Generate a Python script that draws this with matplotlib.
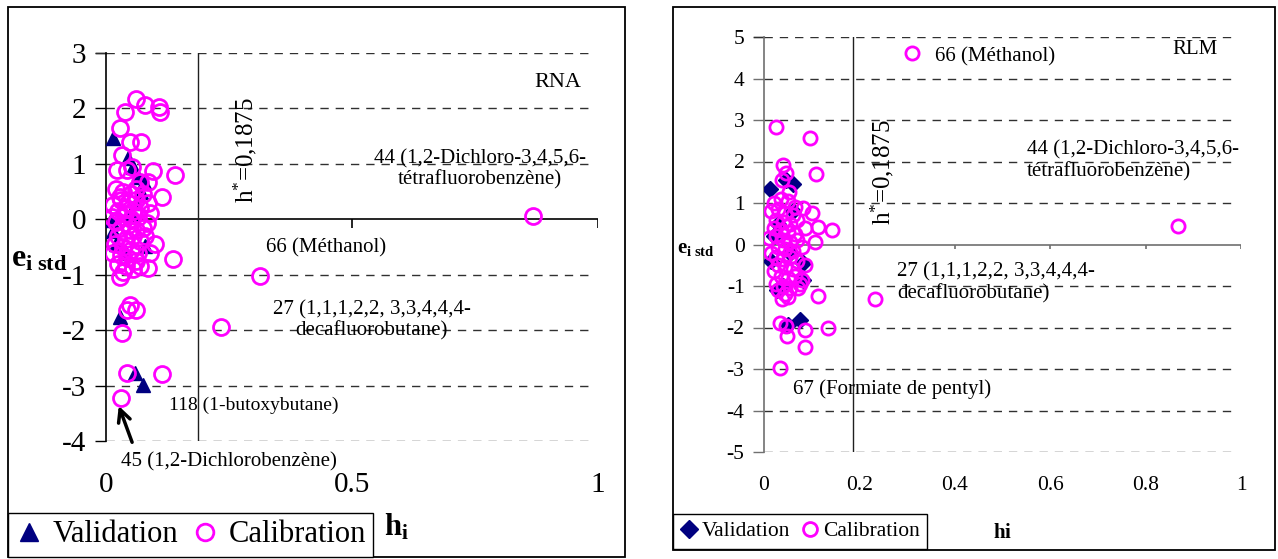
import matplotlib
matplotlib.use("Agg")
import matplotlib.pyplot as plt
from matplotlib.patches import Rectangle
from matplotlib.lines import Line2D

plt.rcParams['font.family'] = 'serif'
plt.rcParams['font.serif'] = ['Liberation Serif', 'DejaVu Serif']
plt.rcParams['mathtext.fontset'] = 'custom'
plt.rcParams['mathtext.rm'] = 'Liberation Serif'
plt.rcParams['mathtext.it'] = 'Liberation Serif:italic'
plt.rcParams['mathtext.bf'] = 'Liberation Serif:bold'
plt.rcParams['axes.unicode_minus'] = False

# ---- RNA (left) ----
rna_cal_h = [0.060, 0.079, 0.108, 0.110, 0.039, 0.028, 0.049, 0.072, 0.032, 0.022, 0.042, 0.052,
             0.095, 0.140, 0.069, 0.085, 0.113, 0.089, 0.083, 0.100, 0.137, 0.086, 0.028, 0.049,
             0.061, 0.042, 0.032, 0.042, 0.113, 0.031, 0.313, 0.234, 0.868,
             0.020, 0.035, 0.050, 0.030, 0.045, 0.060, 0.015, 0.025, 0.040, 0.055, 0.070, 0.035,
             0.050, 0.065, 0.020, 0.030, 0.045, 0.060, 0.075, 0.025, 0.040, 0.055, 0.070, 0.018,
             0.035, 0.050, 0.065, 0.030, 0.045, 0.060, 0.025, 0.040, 0.055, 0.070, 0.035, 0.080,
             0.090, 0.012, 0.028, 0.060, 0.075, 0.085, 0.015, 0.048, 0.038]
rna_cal_e = [2.17, 2.06, 2.03, 1.93, 1.93, 1.64, 1.40, 1.40, 1.16, 0.89, 0.89, 0.95,
             0.87, 0.79, 0.68, 0.68, 0.41, 0.11, -0.07, -0.45, -0.72, -0.87, -1.05, -1.55,
             -1.64, -1.64, -2.06, -2.78, -2.79, -3.22, -1.03, -1.95, 0.06,
             0.55, 0.50, 0.45, 0.35, 0.30, 0.35, 0.25, 0.15, 0.20, 0.15, 0.20, 0.05,
             0.00, 0.05, -0.05, -0.15, -0.10, -0.20, -0.15, -0.30, -0.35, -0.30, -0.40, -0.45,
             -0.50, -0.55, -0.60, -0.65, -0.70, -0.75, -0.80, -0.85, -0.90, -0.85, -0.95, -0.30,
             -0.60, 0.05, 0.40, 0.55, 0.45, 0.30, -0.60, -0.20, 0.10]
rna_val_h = [0.015, 0.045, 0.055, 0.065, 0.077, 0.072, 0.060, 0.011, 0.015, 0.020, 0.079,
             0.028, 0.059, 0.076, 0.040, 0.050]
rna_val_e = [1.46, 1.10, 0.95, 0.77, 0.68, 0.50, 0.30, -0.01, -0.22, -0.45, -0.48,
             -1.76, -2.78, -2.99, -0.60, 0.10]

# ---- RLM (right) ----
rlm_cal_h = [0.310, 0.867, 0.233, 0.025, 0.096, 0.040, 0.047, 0.108, 0.037, 0.053, 0.082,
             0.101, 0.085, 0.114, 0.142, 0.106, 0.114, 0.037, 0.051, 0.072, 0.033, 0.047,
             0.049, 0.085, 0.135, 0.085, 0.033,
             0.020, 0.035, 0.050, 0.065, 0.015, 0.030, 0.045, 0.060, 0.025, 0.040, 0.055, 0.070,
             0.020, 0.035, 0.050, 0.065, 0.010, 0.025, 0.040, 0.055, 0.070, 0.030, 0.045, 0.060,
             0.015, 0.025, 0.040, 0.055, 0.070, 0.030, 0.045, 0.060, 0.020, 0.035, 0.050, 0.065,
             0.080, 0.025, 0.040, 0.055, 0.075, 0.045, 0.030, 0.080, 0.085]
rlm_cal_e = [4.61, 0.45, -1.31, 2.84, 2.56, 1.92, 1.72, 1.69, 1.55, 1.27, 0.87,
             0.75, 0.39, 0.41, 0.35, 0.06, -1.24, -1.32, -1.27, -1.06, -1.88, -1.96,
             -2.20, -2.06, -2.00, -2.48, -2.97,
             1.00, 1.10, 1.05, 0.90, 0.80, 0.85, 0.75, 0.70, 0.60, 0.55, 0.50, 0.60,
             0.40, 0.35, 0.30, 0.25, 0.15, 0.20, 0.10, 0.05, 0.10, -0.05, -0.10, -0.15,
             -0.20, -0.30, -0.35, -0.30, -0.40, -0.50, -0.55, -0.60, -0.65, -0.75, -0.80, -0.75,
             -0.85, -0.95, -1.00, -1.05, -0.95, -1.20, -1.10, -0.05, -0.50]
rlm_val_h = [0.013, 0.047, 0.060, 0.020, 0.030, 0.055, 0.082, 0.082, 0.027, 0.040, 0.075,
             0.050, 0.015, 0.060]
rlm_val_e = [1.33, 1.55, 1.45, 0.20, 0.50, -0.20, -0.45, -0.86, -1.10, -1.00, -1.82,
             -1.95, -0.40, 0.80]

h_star = 0.1875
navy = '#000080'
magenta = '#FF00FF'

W, H = 1278, 559
fig = plt.figure(figsize=(W / 100, H / 100), dpi=100)


def fbox(x0, y0, x1, y1):
    # pixel box -> figure fraction [left, bottom, width, height]
    return [x0 / W, 1 - y1 / H, (x1 - x0) / W, (y1 - y0) / H]


# panel frames
for b in (fbox(8, 7, 625, 557), fbox(673, 7, 1275, 550)):
    fig.patches.append(Rectangle((b[0], b[1]), b[2], b[3], transform=fig.transFigure,
                                 fill=False, edgecolor='black', lw=1.3))


def setup(ax, ylo, yhi, xt, xlabels, tsize, axcol, pad_x, tick_down):
    ax.set_xlim(0, 1)
    ax.set_ylim(ylo, yhi)
    for s in ('top', 'right', 'bottom'):
        ax.spines[s].set_visible(False)
    ax.spines['left'].set_color(axcol)
    ax.spines['left'].set_linewidth(1.2)
    yt = list(range(ylo, yhi + 1))
    ax.set_yticks(yt)
    ax.set_yticklabels([str(v) for v in yt])
    ax.tick_params(axis='y', direction='out', length=8, width=1, color=axcol,
                   labelsize=tsize, pad=6)
    ax.set_xticks(xt)
    ax.set_xticklabels(xlabels)
    ax.tick_params(axis='x', length=0, labelsize=tsize, pad=pad_x)
    for v in yt:
        if v != 0:
            ax.axhline(v, color='#303030', lw=1, ls=(0, (6, 5)), xmax=0.985, zorder=1)
    ax.plot([-0.02, 0], [yhi, yhi], color='#303030', lw=1, clip_on=False)
    ax.axhline(0, color=axcol, lw=1.2, zorder=1)
    ax.vlines(xt[1:], 0, -tick_down, color=axcol, lw=1.2, zorder=1)
    ax.axvline(h_star, color='#202020', lw=1, zorder=1)
    ax.patch.set_alpha(0)


# ---------- left panel ----------
axL = fig.add_axes(fbox(106, 53, 598, 441))
setup(axL, -4, 3, [0, 0.5, 1], ['0', '0.5', '1'], 21, 'black', 22, 0.15)
axL.plot(rna_val_h, rna_val_e, ls='none', marker='^', ms=10, color=navy, zorder=3)
axL.plot(rna_cal_h, rna_cal_e, ls='none', marker='o', ms=11.5, mfc='none', mec=magenta,
         mew=2, zorder=4)
ts = 15
axL.text(0.919, 2.46, 'RNA', fontsize=16, ha='center', va='center')
axL.text(0.76, 0.90, '44 (1,2-Dichloro-3,4,5,6-\ntétrafluorobenzène)', fontsize=ts,
         ha='center', va='center', linespacing=1.15)
axL.text(0.447, -0.52, '66 (Méthanol)', fontsize=ts, ha='center', va='center')
axL.text(0.54, -1.82, '27 (1,1,1,2,2, 3,3,4,4,4-\ndecafluorobutane)', fontsize=ts,
         ha='center', va='center', linespacing=1.15)
axL.text(0.30, -3.35, '118 (1-butoxybutane)', fontsize=14, ha='center', va='center')
axL.text(0.25, -4.37, '45 (1,2-Dichlorobenzène)', fontsize=ts, ha='center', va='center',
         clip_on=False)
axL.text(0.283, 1.25, r'h$^{*}$=0,1875', fontsize=18, rotation=90, ha='center', va='center')
axL.annotate('', xy=(0.024, -3.32), xytext=(0.055, -4.07),
             arrowprops=dict(arrowstyle='->', lw=2.5, color='black', mutation_scale=22),
             annotation_clip=False)
fig.text(39 / W, 1 - 259 / H, r'$\mathbf{e_{i\ std}}$', fontsize=23, ha='center', va='center')
fig.text(396 / W, 1 - 527 / H, r'$\mathbf{h_i}$', fontsize=22, ha='center', va='center')

hL = [Line2D([], [], ls='none', marker='^', ms=13, color=navy),
      Line2D([], [], ls='none', marker='o', ms=12, mfc='none', mec=magenta, mew=2)]
fig.legend(hL, ['Validation', 'Calibration'], loc='lower left',
           bbox_to_anchor=(8 / W, 1 - 557 / H), borderaxespad=0, ncol=2, fontsize=22,
           frameon=True, fancybox=False, edgecolor='black', framealpha=1,
           handlelength=0.9, handletextpad=0.3, columnspacing=0.45, borderpad=0.25)

# ---------- right panel ----------
axR = fig.add_axes(fbox(764, 37, 1241, 452))
setup(axR, -5, 5, [0, 0.2, 0.4, 0.6, 0.8, 1], ['0', '0.2', '0.4', '0.6', '0.8', '1'],
      15.5, '#707070', 17, 0.12)
axR.plot(rlm_val_h, rlm_val_e, ls='none', marker='D', ms=8, color=navy, zorder=3)
axR.plot(rlm_cal_h, rlm_cal_e, ls='none', marker='o', ms=9.5, mfc='none', mec=magenta,
         mew=2, zorder=4)
tr = 15
axR.text(0.904, 4.69, 'RLM', fontsize=tr, ha='center', va='center')
axR.text(0.358, 4.52, '66 (Méthanol)', fontsize=tr, ha='left', va='center')
axR.text(0.551, 2.01, '44 (1,2-Dichloro-3,4,5,6-\ntétrafluorobenzène)', fontsize=tr,
         ha='left', va='center', linespacing=1.15)
axR.text(0.279, -0.93, '27 (1,1,1,2,2, 3,3,4,4,4-\ndecafluorobutane)', fontsize=tr,
         ha='left', va='center', linespacing=1.15)
axR.text(0.061, -3.48, '67 (Formiate de pentyl)', fontsize=tr, ha='left', va='center')
axR.text(0.247, 1.75, r'h$^{*}$=0,1875', fontsize=18, rotation=90, ha='center', va='center')
fig.text(696 / W, 1 - 248 / H, r'$\mathbf{e_{i\ std}}$', fontsize=15, ha='center', va='center')
fig.text(1003 / W, 1 - 533 / H, r'$\mathbf{hi}$', fontsize=15, ha='center', va='center')

hR = [Line2D([], [], ls='none', marker='D', ms=9, color=navy),
      Line2D([], [], ls='none', marker='o', ms=10, mfc='none', mec=magenta, mew=2)]
fig.legend(hR, ['Validation', 'Calibration'], loc='lower left',
           bbox_to_anchor=(673 / W, 1 - 549 / H), borderaxespad=0, ncol=2, fontsize=15.5,
           frameon=True, fancybox=False, edgecolor='black', framealpha=1,
           handlelength=0.8, handletextpad=0.2, columnspacing=0.5, borderpad=0.35)

fig.savefig('out.png', dpi=100)
